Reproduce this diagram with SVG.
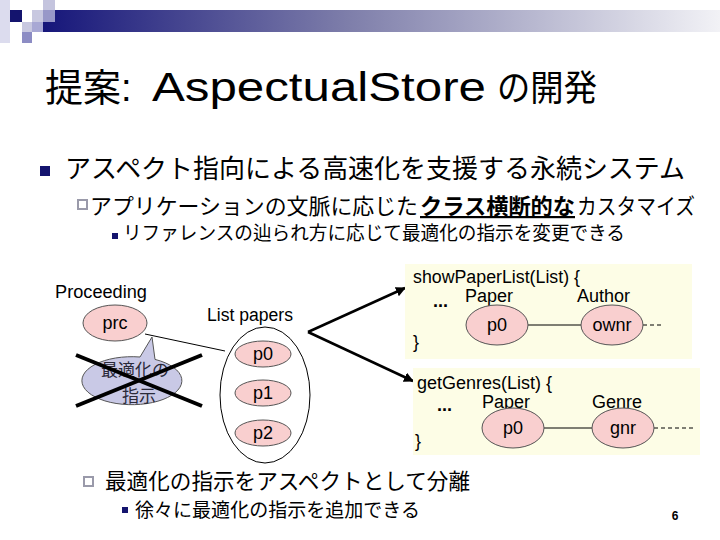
<svg xmlns="http://www.w3.org/2000/svg" width="720" height="540" viewBox="0 0 720 540">
<defs>
<linearGradient id="bar" x1="0" y1="0" x2="1" y2="0">
<stop offset="0" stop-color="#16167a"/>
<stop offset="0.45" stop-color="#7e7eaa"/>
<stop offset="1" stop-color="#f2f2f6"/>
</linearGradient>
<marker id="ah" viewBox="0 0 10 10" refX="9" refY="5" markerWidth="4" markerHeight="4" orient="auto">
<path d="M0,0 L10,5 L0,10 z" fill="#000"/>
</marker>
<style>
text{font-family:"Liberation Sans","Noto Sans CJK JP",sans-serif;fill:#000}
.jp{font-family:"Noto Sans CJK JP","Liberation Sans",sans-serif}
.lbl{font-size:18px}
.mid{text-anchor:middle}
.pink{fill:#f9cfcf;stroke:#555;stroke-width:1}
.box{fill:#fdfde6;stroke:none}
.ln{stroke:#000;stroke-width:1;fill:none}
.dash{stroke:#000;stroke-width:1;stroke-dasharray:4,3;fill:none}
.navy{fill:#14146e}
.hollow{fill:#fff;stroke:#9a9aaa;stroke-width:2}
.hint{fill:#2a2a3a}
</style>
</defs>
<rect width="720" height="540" fill="#fff"/>

<g id="header">
<rect x="43" y="10" width="677" height="22" fill="url(#bar)"/>
<rect x="0" y="0" width="10" height="43" fill="#dcdcee"/>
<rect x="10" y="10" width="12" height="12" fill="#14146e"/>
<rect x="22" y="22" width="10" height="10" fill="#c8c8e0"/>
<rect x="22" y="32" width="10" height="11" fill="#8c8cc4"/>
<rect x="32" y="10" width="11" height="12" fill="#c8c8e0"/>
<rect x="32" y="22" width="11" height="10" fill="#a8a8d4"/>
<rect x="43" y="0" width="12" height="10" fill="#c4c4de"/>
<rect x="43" y="10" width="12" height="12" fill="#9898c8"/>
</g>

<g id="title">
<text x="45" y="101" font-size="38">提案:</text>
<text x="152" y="101" font-size="40" textLength="334" lengthAdjust="spacingAndGlyphs">AspectualStore</text>
<text x="497" y="101" font-size="36" textLength="100" lengthAdjust="spacingAndGlyphs">の開発</text>
</g>

<g id="bullets">
<rect x="40" y="166" width="10" height="10" class="navy"/>
<text class="jp" x="65" y="178" font-size="26" textLength="620" lengthAdjust="spacingAndGlyphs">アスペクト指向による高速化を支援する永続システム</text>
<rect x="78" y="200" width="9" height="9" class="hollow"/>
<text class="jp" x="90" y="214" font-size="22" textLength="328" lengthAdjust="spacingAndGlyphs">アプリケーションの文脈に応じた</text>
<text class="jp" x="420" y="214" font-size="22" font-weight="bold" text-decoration="underline" textLength="155" lengthAdjust="spacingAndGlyphs">クラス横断的な</text>
<text class="jp" x="577" y="214" font-size="22" textLength="118" lengthAdjust="spacingAndGlyphs">カスタマイズ</text>
<rect x="112" y="233" width="6" height="6" class="navy"/>
<text class="jp" x="123" y="240" font-size="19" textLength="502" lengthAdjust="spacingAndGlyphs">リファレンスの辿られ方に応じて最適化の指示を変更できる</text>
<rect x="84" y="477" width="9" height="9" class="hollow"/>
<text class="jp" x="105" y="489" font-size="22" textLength="365" lengthAdjust="spacingAndGlyphs">最適化の指示をアスペクトとして分離</text>
<rect x="122" y="507" width="6" height="6" class="navy"/>
<text class="jp" x="135" y="517" font-size="19" textLength="285" lengthAdjust="spacingAndGlyphs">徐々に最適化の指示を追加できる</text>
<text x="675" y="520" font-size="12" font-weight="bold" class="mid">6</text>
</g>

<g id="connectors">
<line x1="145" y1="334" x2="225" y2="351" class="ln"/>
<line x1="308" y1="332" x2="405" y2="288" stroke="#000" stroke-width="2.5" marker-end="url(#ah)"/>
<line x1="308" y1="332" x2="413" y2="381" stroke="#000" stroke-width="2.5" marker-end="url(#ah)"/>
</g>

<g id="proceeding">
<text x="55" y="298" class="lbl" textLength="92" lengthAdjust="spacingAndGlyphs">Proceeding</text>
<ellipse cx="115" cy="323" rx="32" ry="18" class="pink"/>
<text x="115" y="329" class="lbl mid">prc</text>
</g>

<g id="hint">
<path d="M140,357 L152,337 L155,359.4 A50,24 0 1 1 140,357 Z" fill="#c9c9e6" stroke="#555" stroke-width="1"/>
<text class="jp mid hint" x="135" y="376" font-size="17">最適化の</text>
<text class="jp mid hint" x="139" y="402" font-size="17">指示</text>
<line x1="76" y1="355" x2="202" y2="406" stroke="#000" stroke-width="4"/>
<line x1="76" y1="406" x2="202" y2="355" stroke="#000" stroke-width="4"/>
</g>

<g id="list">
<text x="207" y="321" class="lbl" textLength="86" lengthAdjust="spacingAndGlyphs">List papers</text>
<ellipse cx="265" cy="395" rx="45" ry="68" fill="#fff" stroke="#000" stroke-width="1"/>
<ellipse cx="263" cy="354" rx="28" ry="13" class="pink"/>
<text x="263" y="360" class="lbl mid">p0</text>
<ellipse cx="263" cy="393" rx="28" ry="13" class="pink"/>
<text x="263" y="399" class="lbl mid">p1</text>
<ellipse cx="263" cy="433" rx="28" ry="13" class="pink"/>
<text x="263" y="439" class="lbl mid">p2</text>
</g>

<g id="showPaperList">
<rect x="405" y="264" width="287" height="95" class="box"/>
<line x1="528" y1="325" x2="581" y2="325" class="ln"/>
<line x1="643" y1="325" x2="663" y2="325" class="dash"/>
<text x="413" y="283" class="lbl" textLength="167" lengthAdjust="spacingAndGlyphs">showPaperList(List) {</text>
<text x="433" y="307" class="lbl" font-weight="bold">...</text>
<text x="465" y="302" class="lbl">Paper</text>
<text x="577" y="302" class="lbl">Author</text>
<ellipse cx="497" cy="325" rx="31" ry="20" class="pink"/>
<text x="497" y="331" class="lbl mid">p0</text>
<ellipse cx="612" cy="325" rx="31" ry="20" class="pink"/>
<text x="612" y="331" class="lbl mid">ownr</text>
<text x="413" y="348" class="lbl">}</text>
</g>

<g id="getGenres">
<rect x="413" y="368" width="287" height="87" class="box"/>
<line x1="544" y1="428" x2="592" y2="428" class="ln"/>
<line x1="654" y1="428" x2="695" y2="428" class="dash"/>
<text x="417" y="389" class="lbl">getGenres(List) {</text>
<text x="437" y="411" class="lbl" font-weight="bold">...</text>
<text x="482" y="408" class="lbl">Paper</text>
<text x="592" y="408" class="lbl">Genre</text>
<ellipse cx="513" cy="428" rx="31" ry="20" class="pink"/>
<text x="513" y="434" class="lbl mid">p0</text>
<ellipse cx="623" cy="428" rx="31" ry="20" class="pink"/>
<text x="623" y="434" class="lbl mid">gnr</text>
<text x="415" y="447" class="lbl">}</text>
</g>
</svg>
